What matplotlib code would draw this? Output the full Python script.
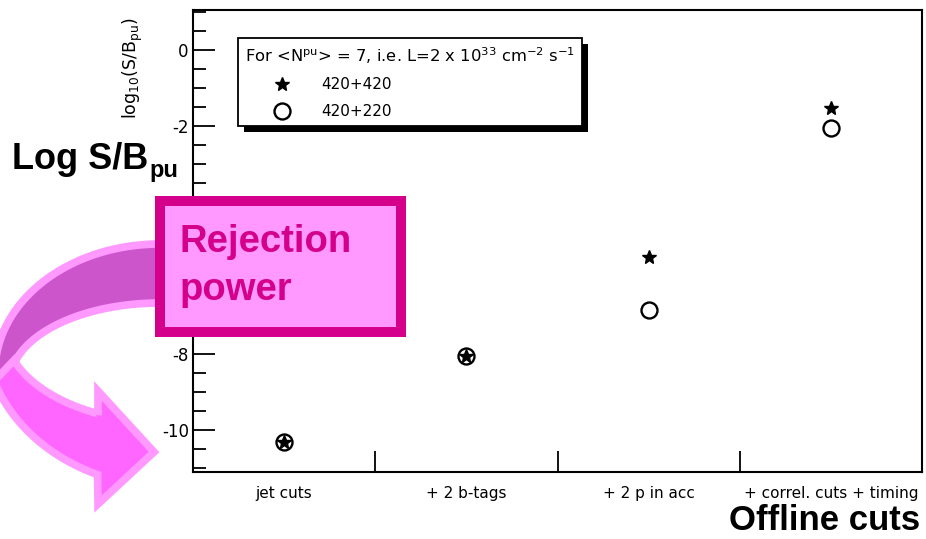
import numpy as np
import matplotlib
matplotlib.use("Agg")
import matplotlib.pyplot as plt
from matplotlib.patches import Polygon, Rectangle
from matplotlib.ticker import MultipleLocator, FixedLocator
from matplotlib.transforms import IdentityTransform

plt.rcParams['font.family'] = ['DejaVu Sans']
plt.rcParams['mathtext.fontset'] = 'dejavusans'
plt.rcParams['axes.unicode_minus'] = False

# ---- data ----
cuts = ["jet cuts", "+ 2 b-tags", "+ 2 p in acc", "+ correl. cuts + timing"]
log_sb_420_420 = [-10.30, -8.05, -5.45, -1.53]
log_sb_420_220 = [-10.30, -8.05, -6.84, -2.05]
series_labels = ["420+420", "420+220"]
legend_title = r"For <N$^{\rm pu}$> = 7, i.e. L=2 x 10$^{33}$ cm$^{-2}$ s$^{-1}$"

W, H = 926, 539
fig = plt.figure(figsize=(W / 100, H / 100), dpi=100)

# ---- main plot ----
ax = fig.add_axes([193 / W, 1 - 472 / H, (922 - 193) / W, (472 - 10) / H])
xpos = np.arange(len(cuts))
star, = ax.plot(xpos, log_sb_420_420, ls='none', marker='*', ms=10.5,
                color='black', label=series_labels[0], zorder=3)
ring, = ax.plot(xpos, log_sb_420_220, ls='none', marker='o', ms=11.5,
                mfc='none', mec='black', mew=1.7, label=series_labels[1], zorder=3)

ax.set_xlim(-0.5, 3.5)
ax.set_ylim(-11.1, 1.05)

for s in ax.spines.values():
    s.set_linewidth(1.5)

ax.yaxis.set_major_locator(MultipleLocator(2))
ax.yaxis.set_minor_locator(MultipleLocator(0.5))
ax.tick_params(axis='y', which='major', direction='in', length=16, width=1.3,
               labelsize=12, pad=3)
ax.tick_params(axis='y', which='minor', direction='in', length=9, width=1.3)

ax.set_xticks(xpos)
ax.set_xticklabels(cuts)
ax.xaxis.set_minor_locator(FixedLocator(xpos[:-1] + 0.5))
ax.tick_params(axis='x', which='major', length=0, pad=10, labelsize=11)
ax.tick_params(axis='x', which='minor', direction='in', length=15, width=1.3)

ax.set_ylabel(r"log$_{10}$(S/B$_{\rm pu}$)", fontsize=12.5)
ax.yaxis.set_label_coords(-0.066, 0.874)

x0 = (238 - 193) / 729
y0 = (472 - 126) / 462
leg = ax.legend(handles=[star, ring], labels=series_labels, title=legend_title,
                loc='upper left', bbox_to_anchor=(x0, y0, 344 / 729, 88 / 462),
                mode='expand', borderaxespad=0, fancybox=False, framealpha=1,
                edgecolor='black', fontsize=11, title_fontsize=11.8,
                alignment='left', handlelength=4.8, handletextpad=0.2,
                labelspacing=0.78, borderpad=0.45, numpoints=1)
leg.get_frame().set_linewidth(1.3)

# legend drop shadow
fig.canvas.draw()
bb = leg.get_window_extent()
ax.add_patch(Rectangle((bb.x0 + 6, bb.y0 - 6), bb.width, bb.height,
                       transform=IdentityTransform(), facecolor='black',
                       edgecolor='none', zorder=4.9, clip_on=False))

# the -6 label sits entirely under the "Rejection power" box
for tick in ax.yaxis.get_major_ticks():
    if abs(tick.get_loc() + 6) < 1e-9:
        tick.label1.set_visible(False)

# ---- annotation layer (pixel coordinates, y downwards) ----
deco = fig.add_axes([0, 0, 1, 1], zorder=10)
deco.set_xlim(0, W)
deco.set_ylim(H, 0)
deco.axis('off')
deco.patch.set_alpha(0)

MAGENTA = '#D4008C'
LIGHT = '#FF99FF'
PURPLE = '#CC55CC'
BRIGHT = '#FF66FF'


def arc(cx, cy, rx, ry, a0, a1, n=80):
    phi = np.radians(np.linspace(a0, a1, n))
    return np.column_stack([cx + rx * np.cos(phi), cy - ry * np.sin(phi)])


# back part of the curved arrow
upper = np.vstack([arc(160, 372, 165, 128, 80, 188),
                   arc(160, 382, 150, 79, 188, 80)])
deco.add_patch(Polygon(upper, closed=True, facecolor=PURPLE, edgecolor=LIGHT,
                       linewidth=5.5, joinstyle='miter', clip_on=False))

# front part with the arrow head
outer = arc(170, 330, 186, 157, 199, 247.1)
inner = arc(170, 330, 165, 93, 244.2, 199)
head = np.array([[98, 504], [154, 452], [98, 391], [98, 415]])
lower = np.vstack([outer, head, inner])
deco.add_patch(Polygon(lower, closed=True, facecolor=BRIGHT, edgecolor=LIGHT,
                       linewidth=5.5, joinstyle='miter', clip_on=False))

# "Rejection power" box
deco.add_patch(Rectangle((160, 201), 241, 131, facecolor=LIGHT,
                         edgecolor=MAGENTA, linewidth=7.2, joinstyle='miter'))
deco.text(180, 252, "Rejection", color=MAGENTA, fontsize=27.5, fontweight='bold',
          family='Liberation Sans', va='baseline', ha='left')
deco.text(180, 300, "power", color=MAGENTA, fontsize=27.5, fontweight='bold',
          family='Liberation Sans', va='baseline', ha='left')

# axis captions
deco.text(12, 169, "Log S/B", color='black', fontsize=26, fontweight='bold',
          family='Liberation Sans', va='baseline', ha='left')
deco.text(149, 177, "pu", color='black', fontsize=17, fontweight='bold',
          family='Liberation Sans', va='baseline', ha='left')
deco.text(920, 530, "Offline cuts", color='black', fontsize=25, fontweight='bold',
          family='Liberation Sans', va='baseline', ha='right')

fig.savefig("out.png", dpi=100)
